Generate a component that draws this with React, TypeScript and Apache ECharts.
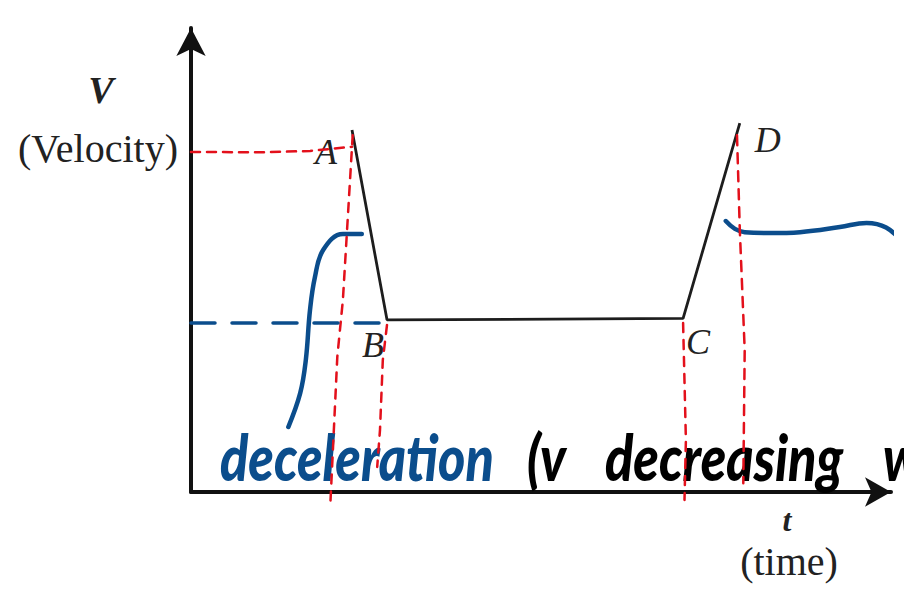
import React, { useEffect, useRef } from 'react';
import * as echarts from 'echarts';

// Velocity–time path A → B → C → D
const pointNames = ['A', 'B', 'C', 'D'];
const pointTimes = [23.0, 28.0, 70.3, 78.4];
const pointVelocities = [78.0, 37.1, 37.4, 79.5];

// Red construction lines (hand drawn)
const levelATimes = [0, 10, 17, 23.0];
const levelAVelocities = [73.3, 73.2, 73.5, 74.4];
const dropATimes = [23.1, 21.7, 20.9, 19.9];
const dropAVelocities = [76.9, 41.4, 29.1, -2.8];
const dropBTimes = [28.0, 27.4, 27.0, 26.6];
const dropBVelocities = [36.0, 28.4, 13.4, 5.4];
const dropCTimes = [70.3, 70.7, 70.5];
const dropCVelocities = [36.4, 11.2, -1.7];
const dropDTimes = [78.0, 78.4, 79.1, 78.9];
const dropDVelocities = [76.9, 56.5, 30.6, 1.9];

// Blue pen marks
const levelBTimes = [0, 27.0];
const levelBVelocities = [36.4, 36.4];
const hookTimes = [24.4, 21.7, 18.9, 17.7, 17.0, 16.4, 15.6, 13.9];
const hookVelocities = [55.6, 55.6, 52.2, 46.3, 39.2, 28.4, 21.3, 14.0];
const swoopTimes = [76.4, 77.7, 79.1, 82.7, 87.0, 92.7, 96.5, 99.3, 101.9];
const swoopVelocities = [58.4, 56.7, 56.0, 55.8, 56.0, 57.1, 58.0, 57.0, 53.5];

// Text
const velocitySymbol = 'V';
const velocityTitle = '(Velocity)';
const timeSymbol = 't';
const timeTitle = '(time)';
const noteBlue = 'deceleration';
const noteOpen = '(v';
const noteWord = 'decreasing';
const noteTail = 'w';

const RED = '#e3101b';
const BLUE = '#0b4d8c';
const INK = '#111';

const zip = (xs: number[], ys: number[]) => xs.map((x, i) => [x, ys[i]]);

const labelOffsets: Record<string, number[]> = {
  A: [-26, 22],
  B: [-14, 25],
  C: [15, 24],
  D: [28, 17],
};

const dashed = (xs: number[], ys: number[], color: string, dash: number[], width = 2.5) => ({
  type: 'line',
  data: zip(xs, ys),
  symbol: 'none',
  clip: false,
  silent: true,
  z: 4,
  lineStyle: { color, width, type: dash, cap: 'round' },
});

export default function App() {
  const ref = useRef<HTMLDivElement>(null);

  useEffect(() => {
    if (!ref.current) return;
    const chart = echarts.init(ref.current, null, { renderer: 'svg' });

    const axisCommon = {
      type: 'value',
      min: 0,
      max: 100,
      axisTick: { show: false },
      axisLabel: { show: false },
      splitLine: { show: false },
    };

    const serif = "'Liberation Serif', 'DejaVu Serif', serif";
    const hand = "Lato, 'Noto Sans', sans-serif";
    const handText = (text: string, x: number, fill: string) => ({
      type: 'text', x, y: 456, scaleX: 0.815, z: 1,
      style: { text, fontFamily: hand, fontSize: 64, fontWeight: 900, fontStyle: 'italic', fill, align: 'left', verticalAlign: 'middle' },
    });

    chart.setOption({
      animation: false,
      backgroundColor: '#ffffff',
      grid: { left: 191, right: 13, top: 28, bottom: 98 },
      xAxis: {
        ...axisCommon,
        axisLine: {
          show: true,
          onZero: false,
          symbol: ['none', 'arrow'],
          symbolSize: [22, 26],
          lineStyle: { color: INK, width: 4 },
        },
      },
      yAxis: {
        ...axisCommon,
        axisLine: {
          show: true,
          onZero: false,
          symbol: ['none', 'arrow'],
          symbolSize: [22, 28],
          lineStyle: { color: INK, width: 4 },
        },
      },
      graphic: [
        {
          type: 'text', x: 101, y: 90, z: 1,
          style: { text: velocitySymbol, fontFamily: serif, fontSize: 38, fontStyle: 'italic', fontWeight: 'bold', fill: '#222', align: 'center', verticalAlign: 'middle' },
        },
        {
          type: 'text', x: 98, y: 148, z: 1,
          style: { text: velocityTitle, fontFamily: serif, fontSize: 40, fill: '#222', align: 'center', verticalAlign: 'middle' },
        },
        {
          type: 'text', x: 787, y: 520, z: 1,
          style: { text: timeSymbol, fontFamily: serif, fontSize: 32, fontStyle: 'italic', fontWeight: 'bold', fill: '#222', align: 'center', verticalAlign: 'middle' },
        },
        {
          type: 'text', x: 789, y: 561, z: 1,
          style: { text: timeTitle, fontFamily: serif, fontSize: 40, fill: '#222', align: 'center', verticalAlign: 'middle' },
        },
        handText(noteBlue, 220, BLUE),
        handText(noteOpen, 527, '#000'),
        handText(noteWord, 605, '#000'),
        handText(noteTail, 883, '#000'),
      ],
      series: [
        {
          type: 'line',
          data: pointNames.map((name, i) => ({
            name,
            value: [pointTimes[i], pointVelocities[i]],
            label: {
              show: true,
              formatter: name,
              position: 'inside',
              offset: labelOffsets[name],
            },
          })),
          symbol: 'circle',
          symbolSize: 1,
          itemStyle: { color: 'rgba(0,0,0,0)' },
          clip: false,
          silent: true,
          z: 3,
          lineStyle: { color: '#1d1d1d', width: 2.8 },
          label: {
            color: '#222',
            fontFamily: serif,
            fontSize: 36,
            fontStyle: 'italic',
          },
        },
        dashed(levelATimes, levelAVelocities, RED, [9, 7]),
        dashed(dropATimes, dropAVelocities, RED, [9, 8]),
        dashed(dropBTimes, dropBVelocities, RED, [9, 8]),
        dashed(dropCTimes, dropCVelocities, RED, [9, 8]),
        dashed(dropDTimes, dropDVelocities, RED, [10, 8]),
        dashed(levelBTimes, levelBVelocities, BLUE, [24, 17], 3.5),
        {
          type: 'line',
          data: zip(hookTimes, hookVelocities),
          symbol: 'none',
          smooth: 0.4,
          clip: false,
          silent: true,
          z: 3,
          lineStyle: { color: BLUE, width: 4.5, cap: 'round' },
        },
        {
          type: 'line',
          data: zip(swoopTimes, swoopVelocities),
          symbol: 'none',
          smooth: 0.4,
          clip: false,
          silent: true,
          z: 3,
          lineStyle: { color: BLUE, width: 4.5, cap: 'round' },
        },
      ],
    });

    return () => chart.dispose();
  }, []);

  return (
    <div
      ref={ref}
      style={{ position: 'fixed', left: 0, top: 0, width: 904, height: 590, background: '#fff' }}
    />
  );
}
